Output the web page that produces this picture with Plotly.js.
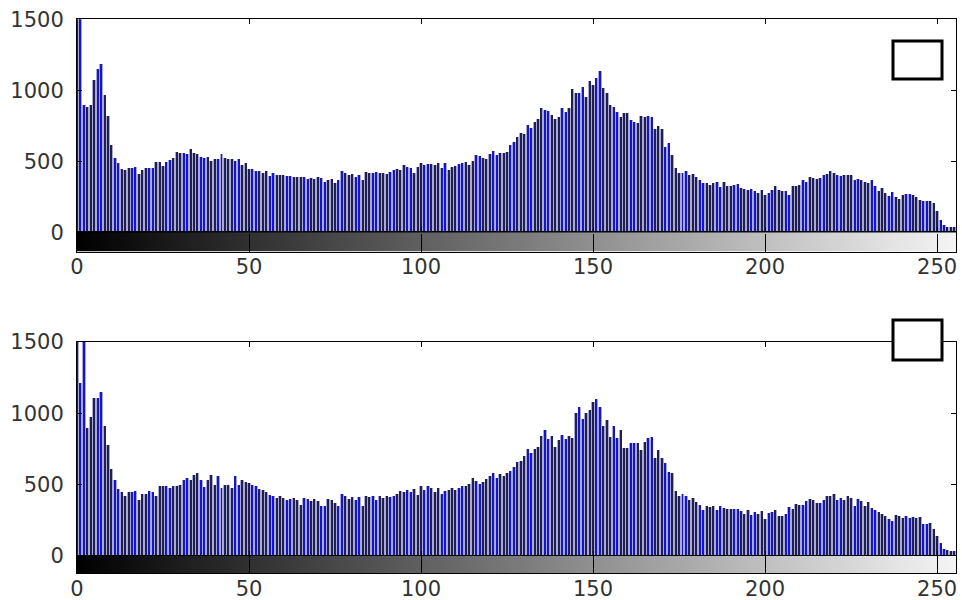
<!DOCTYPE html>
<html>
<head>
<meta charset="utf-8">
<script src="https://cdn.plot.ly/plotly-3.0.1.min.js"></script>
<style>html,body{margin:0;padding:0;background:#fff;}#chart{width:962px;height:600px;}</style>
</head>
<body>
<div id="chart"></div>
<script>
// Gray levels (histogram bins) and tick labels
const grayLevels = Array.from({length: 256}, (_, i) => i);
const xTickVals = [0, 50, 100, 150, 200, 250];
const xTickText = ['0', '50', '100', '150', '200', '250'];
const yTickVals = [0, 500, 1000, 1500];
const yTickText = ['0', '500', '1000', '1500'];

// Top histogram counts (bins 0..255)
const topCounts = [
  1600,1600,897,885,894,1070,1150,1185,965,820,
  613,521,486,445,440,450,455,462,410,440,
  450,456,455,498,498,470,495,509,523,566,
  556,556,552,589,556,552,533,523,533,500,
  519,519,552,523,519,519,505,514,476,486,
  444,444,434,430,415,430,397,420,406,406,
  406,397,397,387,387,392,392,378,385,375,
  390,380,357,369,373,350,369,434,415,404,
  411,392,404,369,427,420,420,427,415,420,
  411,427,439,444,439,474,458,451,415,462,
  486,474,481,479,474,486,451,486,439,462,
  467,481,486,498,474,505,545,538,521,514,
  552,575,545,556,561,568,615,638,669,697,
  692,756,732,779,796,873,862,857,826,796,
  815,873,850,873,1012,979,984,1021,955,1066,
  1038,1085,1138,1014,979,894,880,850,810,838,
  838,791,779,772,819,815,819,810,725,749,
  725,603,631,545,451,415,415,434,404,411,
  392,368,350,345,333,350,357,322,357,326,
  326,333,338,310,303,298,303,293,275,298,
  263,275,298,326,298,293,293,263,326,326,
  333,368,357,387,380,373,380,404,411,434,
  415,404,397,404,404,404,369,373,369,357,
  345,369,326,293,310,275,256,286,251,232,
  263,268,268,263,251,228,221,221,221,204,
  153,87,52,40,40,40
];

// Bottom histogram counts (bins 0..255)
const bottomCounts = [
  1600,1210,1600,895,972,1105,1105,1152,911,778,
  607,533,467,444,420,444,444,456,388,435,
  435,451,444,416,486,486,491,474,486,491,
  498,533,544,533,568,584,533,481,528,568,
  498,556,474,498,498,474,556,498,528,514,
  509,498,491,467,463,444,428,420,404,416,
  404,393,398,404,393,357,404,398,381,398,
  381,346,350,397,388,372,350,435,420,397,
  411,388,411,346,420,411,420,388,420,404,
  420,411,420,435,451,444,463,444,467,425,
  486,463,491,474,444,474,435,451,463,474,
  463,474,491,491,505,544,521,505,514,537,
  561,584,544,575,556,579,598,626,661,668,
  701,748,724,748,766,841,879,818,841,762,
  813,848,818,841,825,1005,1042,958,1005,1023,
  1082,1098,1047,911,953,836,911,825,879,755,
  755,794,794,794,743,801,825,832,685,743,
  685,650,591,579,451,420,435,420,393,404,
  374,357,318,346,341,346,322,350,334,327,
  327,327,327,311,294,318,287,304,294,311,
  257,299,304,318,276,280,294,341,327,364,
  357,357,381,397,388,369,369,393,420,420,
  435,393,404,388,420,404,350,397,381,350,
  374,334,322,304,294,280,257,241,287,276,
  264,276,264,271,264,271,224,224,229,187,
  136,89,47,42,30,30
];

// ---- styling ----
const NAVY = '#202050';
const BLUE = '#1414c8';
const LAV = '#a9a9d6';
const stemColors = grayLevels.map(i => ([1, 2].includes(i % 5) ? BLUE : NAVY));
const tickFont = {family: 'DejaVu Sans', size: 21, color: '#333333'};

function histTraces(counts, xa, ya) {
  return [
    {type: 'bar', x: grayLevels, y: counts, width: 1, offset: -0.5,
     marker: {color: LAV, line: {width: 0}}, xaxis: xa, yaxis: ya, hoverinfo: 'skip'},
    {type: 'bar', x: grayLevels, y: counts, width: 0.58, offset: -0.29,
     marker: {color: stemColors, line: {width: 0}}, xaxis: xa, yaxis: ya, hoverinfo: 'skip'}
  ];
}
function grayBar(xa, ya) {
  return {type: 'heatmap', x: grayLevels, y: [0], z: [grayLevels],
    colorscale: [[0, '#000000'], [1, '#f4f4f4']], zmin: 0, zmax: 255,
    showscale: false, xaxis: xa, yaxis: ya, hoverinfo: 'skip'};
}

const W = 962, H = 600;
const xDom = [77 / W, 956 / W];
const py = p => 1 - p / H;
const xRange = [0, 255.5];

function histX(anchor) {
  return {domain: xDom, range: xRange, anchor: anchor, showline: true, mirror: 'ticks',
    linecolor: '#000', linewidth: 1, ticks: 'inside', ticklen: 5, tickcolor: '#000',
    tickvals: xTickVals, showticklabels: false, showgrid: false, zeroline: false, fixedrange: true};
}
function histY(dom, anchor) {
  return {domain: dom, range: [0, 1500], anchor: anchor, showline: true, mirror: 'ticks',
    linecolor: '#000', linewidth: 1, ticks: 'inside', ticklen: 5, tickcolor: '#000',
    tickvals: yTickVals, ticktext: yTickText, tickfont: tickFont, ticklabelstandoff: 8,
    showgrid: false, zeroline: false, fixedrange: true};
}
function barX(anchor) {
  return {domain: xDom, range: xRange, anchor: anchor, showline: true, mirror: true,
    linecolor: '#000', linewidth: 1, ticks: 'inside', ticklen: 18, tickcolor: '#000',
    tickvals: xTickVals, ticktext: xTickText, tickfont: tickFont, ticklabelstandoff: -4,
    showgrid: false, zeroline: false, fixedrange: true};
}
function barY(dom, anchor) {
  return {domain: dom, range: [-0.5, 0.5], anchor: anchor, showline: true, mirror: true,
    linecolor: '#000', linewidth: 1, ticks: '', showticklabels: false,
    showgrid: false, zeroline: false, fixedrange: true};
}

const data = [
  ...histTraces(topCounts, 'x', 'y'),
  grayBar('x2', 'y2'),
  ...histTraces(bottomCounts, 'x3', 'y3'),
  grayBar('x4', 'y4')
];

const layout = {
  width: W, height: H,
  margin: {l: 0, r: 0, t: 0, b: 0},
  paper_bgcolor: '#fff', plot_bgcolor: '#fff',
  showlegend: false, barmode: 'overlay', bargap: 0,
  xaxis: histX('y'),
  yaxis: histY([py(232.3), py(19.3)], 'x'),
  xaxis2: barX('y2'),
  yaxis2: barY([py(251.7), py(232.3)], 'x2'),
  xaxis3: histX('y3'),
  yaxis3: histY([py(555.7), py(342)], 'x3'),
  xaxis4: barX('y4'),
  yaxis4: barY([py(573.3), py(555.7)], 'x4'),
  shapes: [
    {type: 'rect', xref: 'paper', yref: 'paper', x0: 893 / W, x1: 942 / W, y0: py(79), y1: py(41),
     line: {color: '#000', width: 3}, fillcolor: '#fff', layer: 'above'},
    {type: 'rect', xref: 'paper', yref: 'paper', x0: 893 / W, x1: 942 / W, y0: py(360), y1: py(320),
     line: {color: '#000', width: 3}, fillcolor: '#fff', layer: 'above'}
  ]
};

Plotly.newPlot('chart', data, layout, {staticPlot: true, displayModeBar: false});
</script>
</body>
</html>
